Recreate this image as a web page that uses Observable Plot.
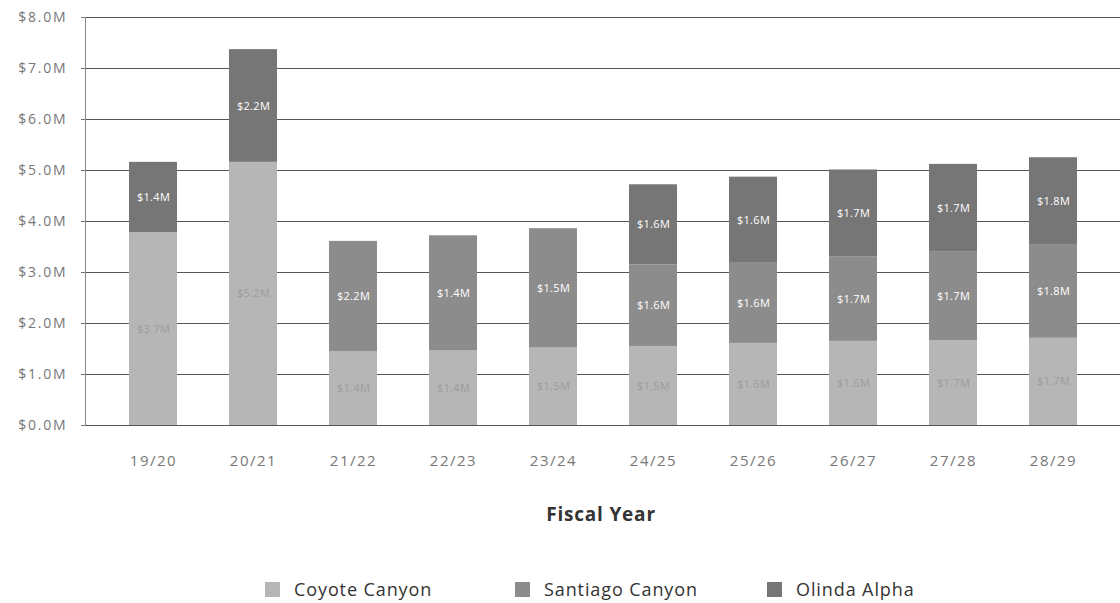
<!DOCTYPE html>
<html>
<head>
<meta charset="utf-8">
<script src="https://cdn.jsdelivr.net/npm/d3@7"></script>
<script src="https://cdn.jsdelivr.net/npm/@observablehq/plot@0.6"></script>
<style>
  html, body { margin: 0; padding: 0; background: #fff; }
  body { width: 1120px; height: 603px; position: relative; overflow: hidden; font-family: "Open Sans", sans-serif; }
  #chart { position: absolute; left: 0; top: 0; }
  #xtitle { position: absolute; left: 0; width: 1202px; top: 501px; text-align: center; font-weight: bold; font-size: 19px; color: #333; letter-spacing: 0.8px; }
  .leg { position: absolute; top: 577px; display: flex; align-items: center; font-size: 18px; color: #333; letter-spacing: 0.9px; }
  .sw { width: 15px; height: 15px; margin-right: 14px; }
</style>
</head>
<body>
<div id="chart"></div>
<div id="xtitle">Fiscal Year</div>
<div id="legend"></div>
<script>
const years = ["19/20","20/21","21/22","22/23","23/24","24/25","25/26","26/27","27/28","28/29"];
const seriesNames = ["Coyote Canyon","Santiago Canyon","Olinda Alpha"];
const seriesColors = ["#b6b6b6","#8c8c8c","#767676"];
const coyote   = [3.78, 5.16, 1.45, 1.46, 1.52, 1.55, 1.61, 1.65, 1.66, 1.71];
const santiago = [0, 0, 2.16, 2.26, 2.34, 1.60, 1.57, 1.66, 1.75, 1.84];
const olinda   = [1.38, 2.21, 0, 0, 0, 1.57, 1.69, 1.70, 1.71, 1.70];
const coyoteLabels   = ["$3.7M","$5.2M","$1.4M","$1.4M","$1.5M","$1.5M","$1.6M","$1.6M","$1.7M","$1.7M"];
const santiagoLabels = ["","","$2.2M","$1.4M","$1.5M","$1.6M","$1.6M","$1.7M","$1.7M","$1.8M"];
const olindaLabels   = ["$1.4M","$2.2M","","","","$1.6M","$1.6M","$1.7M","$1.7M","$1.8M"];
const yTicks = [0,1,2,3,4,5,6,7,8];

const seriesValues = [coyote, santiago, olinda];
const seriesLabels = [coyoteLabels, santiagoLabels, olindaLabels];
const data = [];
seriesNames.forEach((s, i) => {
  years.forEach((yr, j) => {
    data.push({year: yr, series: s, value: seriesValues[i][j], label: seriesLabels[i][j]});
  });
});

const plot = Plot.plot({
  width: 1120,
  height: 480,
  marginLeft: 85,
  marginRight: 0,
  marginTop: 17,
  marginBottom: 55,
  style: {fontFamily: "Open Sans, sans-serif", background: "#fff"},
  x: {domain: years, paddingInner: 0.524, paddingOuter: 0.396, label: null},
  y: {domain: [0, 8], label: null},
  color: {domain: seriesNames, range: seriesColors},
  marks: [
    Plot.gridY(yTicks, {stroke: "#555", strokeOpacity: 1, strokeWidth: 1}),
    Plot.barY(data, Plot.stackY({x: "year", y: "value", fill: "series", order: seriesNames})),
    Plot.text(data.filter(d => d.value > 0 && d.label !== ""), Plot.stackY({
      x: "year", y: "value", z: "series", order: seriesNames, text: "label",
      fill: d => d.series === "Coyote Canyon" ? "#9c9c9c" : "#ffffff",
      fontSize: 11
    })),
    Plot.axisY(yTicks, {
      tickFormat: d => `$${d.toFixed(1)}M`, tickSize: 4, tickPadding: 14,
      fontSize: 14, color: "#777", label: null
    }),
    Plot.axisX({tickSize: 0, tickPadding: 30, fontSize: 15, color: "#777", label: null}),
    Plot.frame({anchor: "left", stroke: "#888"})
  ]
});
plot.querySelectorAll("g[aria-label='y-axis tick label'] text").forEach(t => t.style.letterSpacing = "1.8px");
plot.querySelectorAll("g[aria-label='x-axis tick label'] text").forEach(t => t.style.letterSpacing = "1.5px");
plot.querySelectorAll("g[aria-label='text'] text").forEach(t => t.style.letterSpacing = "0.3px");
document.getElementById("chart").appendChild(plot);

const legend = document.getElementById("legend");
const legendLeft = [265, 515, 767];
seriesNames.forEach((s, i) => {
  const item = document.createElement("div");
  item.className = "leg";
  item.style.left = legendLeft[i] + "px";
  const sw = document.createElement("div");
  sw.className = "sw";
  sw.style.background = seriesColors[i];
  item.appendChild(sw);
  item.appendChild(document.createTextNode(s));
  legend.appendChild(item);
});
</script>
</body>
</html>
